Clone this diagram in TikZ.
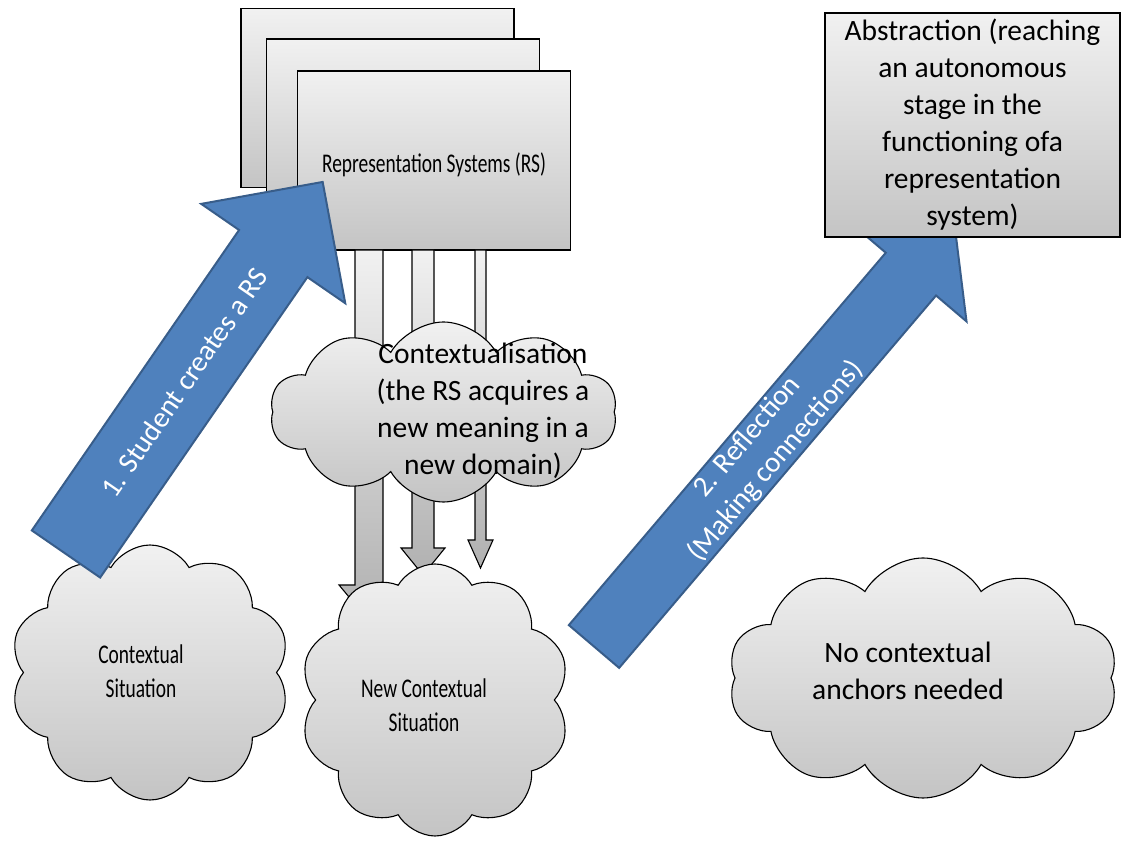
\documentclass[tikz,border=0pt]{standalone}
\usepackage{fontspec}
\setmainfont{Carlito}
\newfontfamily\narrowfont[FakeStretch=0.72]{Carlito}
\usetikzlibrary{shapes.symbols}

\definecolor{shadelight}{RGB}{241,241,241}
\definecolor{shadedark}{RGB}{196,196,196}
\definecolor{arrowblue}{RGB}{79,129,189}
\definecolor{arrowedge}{RGB}{56,93,138}

\tikzset{
  grad/.style={top color=shadelight, bottom color=shadedark},
  rsbox/.style={draw=black, line width=1.2pt, grad, rectangle,
    minimum width=273pt, minimum height=179pt, inner sep=0pt},
  absbox/.style={draw=black, line width=1.2pt, grad, rectangle,
    minimum width=295pt, minimum height=224pt, inner sep=0pt},
  puff/.style={draw=black, line width=1.1pt, grad, cloud, cloud puffs=10,
    cloud puff arc=120, inner sep=0pt},
  bodytext/.style={font=\fontsize{29.5pt}{37pt}\selectfont, align=center, inner sep=0pt},
  narrowtext/.style={font=\narrowfont\fontsize{27pt}{34pt}\selectfont, align=center, inner sep=0pt},
  bluearrow/.style={fill=arrowblue, draw=arrowedge, line width=2pt, line join=miter},
  bluetext/.style={text=white, font=\fontsize{29pt}{37pt}\selectfont, align=center, inner sep=0pt},
  downblock/.style={draw=black, line width=1.1pt, top color=shadelight, bottom color=shadedark!90!black},
}

\begin{document}
\begin{tikzpicture}[x=1pt, y=1pt]
\useasboundingbox (0,0) rectangle (1122,843);
\fill[white] (0,0) rectangle (1122,843);

% stack of representation systems
\node[rsbox] (rsback) at (377.5,745) {};
\node[rsbox] (rsmid) at (403,714.5) {};
\node[rsbox] (rsfront) at (434,682.5) {};
\node[narrowtext] (rslabel) at (434,678) {Representation Systems (RS)};

% three block arrows flowing down from the front box
\coordinate (d1) at (369,593);
\coordinate (d2) at (423,593);
\coordinate (d3) at (480.5,593);
\path[downblock] (d1) ++(-14,0) -- ++(0,-335) -- ++(-16,0) -- (369,222) -- (399,258) -- (383,258) -- (383,593) -- cycle;
\path[downblock] (d2) ++(-11,0) -- ++(0,-298) -- ++(-11,0) -- (423,268) -- (445,295) -- (434,295) -- (434,593) -- cycle;
\path[downblock] (d3) ++(-5.5,0) -- ++(0,-290) -- ++(-7,0) -- (480.5,275) -- (493,303) -- (486,303) -- (486,593) -- cycle;

% contextualisation cloud
\node[puff, minimum width=347pt, minimum height=180pt] (ctx) at (443.5,431) {};
\node[bodytext] (ctxlabel) at (483,432) {Contextualisation\\(the RS acquires a\\new meaning in a\\new domain)};

% situation clouds
\node[puff, minimum width=280pt, minimum height=255pt] (ctxsit) at (150,170.5) {};
\node[narrowtext] (ctxsitlabel) at (141,172) {Contextual\\Situation};

\node[puff, minimum width=270pt, minimum height=272pt] (newsit) at (435,143) {};
\node[narrowtext] (newsitlabel) at (424,138) {New Contextual\\Situation};

\node[puff, minimum width=390pt, minimum height=240pt] (noanchor) at (923,165) {};
\node[bodytext] (noanchorlabel) at (908,172) {No contextual\\anchors needed};

% step 1: creating a representation system
\begin{scope}[shift={(66,289)}, rotate=55.4]
  \path[bluearrow] (0,-41.5) -- (365,-41.5) -- (365,-87.5) -- (452,0)
    -- (365,87.5) -- (365,41.5) -- (0,41.5) -- cycle;
  \node[bluetext, transform shape] (step1) at (208,0) {1. Student creates a RS};
\end{scope}

% step 2: reflection
\begin{scope}[shift={(594,196.5)}, rotate=49.6]
  \path[bluearrow] (0,-33) -- (489,-33) -- (489,-73) -- (556,0)
    -- (489,73) -- (489,33) -- (0,33) -- cycle;
  \node[bluetext, transform shape] (step2) at (259,0) {2. Reflection\\(Making connections)};
\end{scope}

% abstraction
\node[absbox, align=center, font=\fontsize{29.5pt}{37pt}\selectfont] (abstr) at (972.5,718)
  {Abstraction (reaching\\an autonomous\\stage in the\\functioning ofa\\representation\\system)};
\end{tikzpicture}
\end{document}
